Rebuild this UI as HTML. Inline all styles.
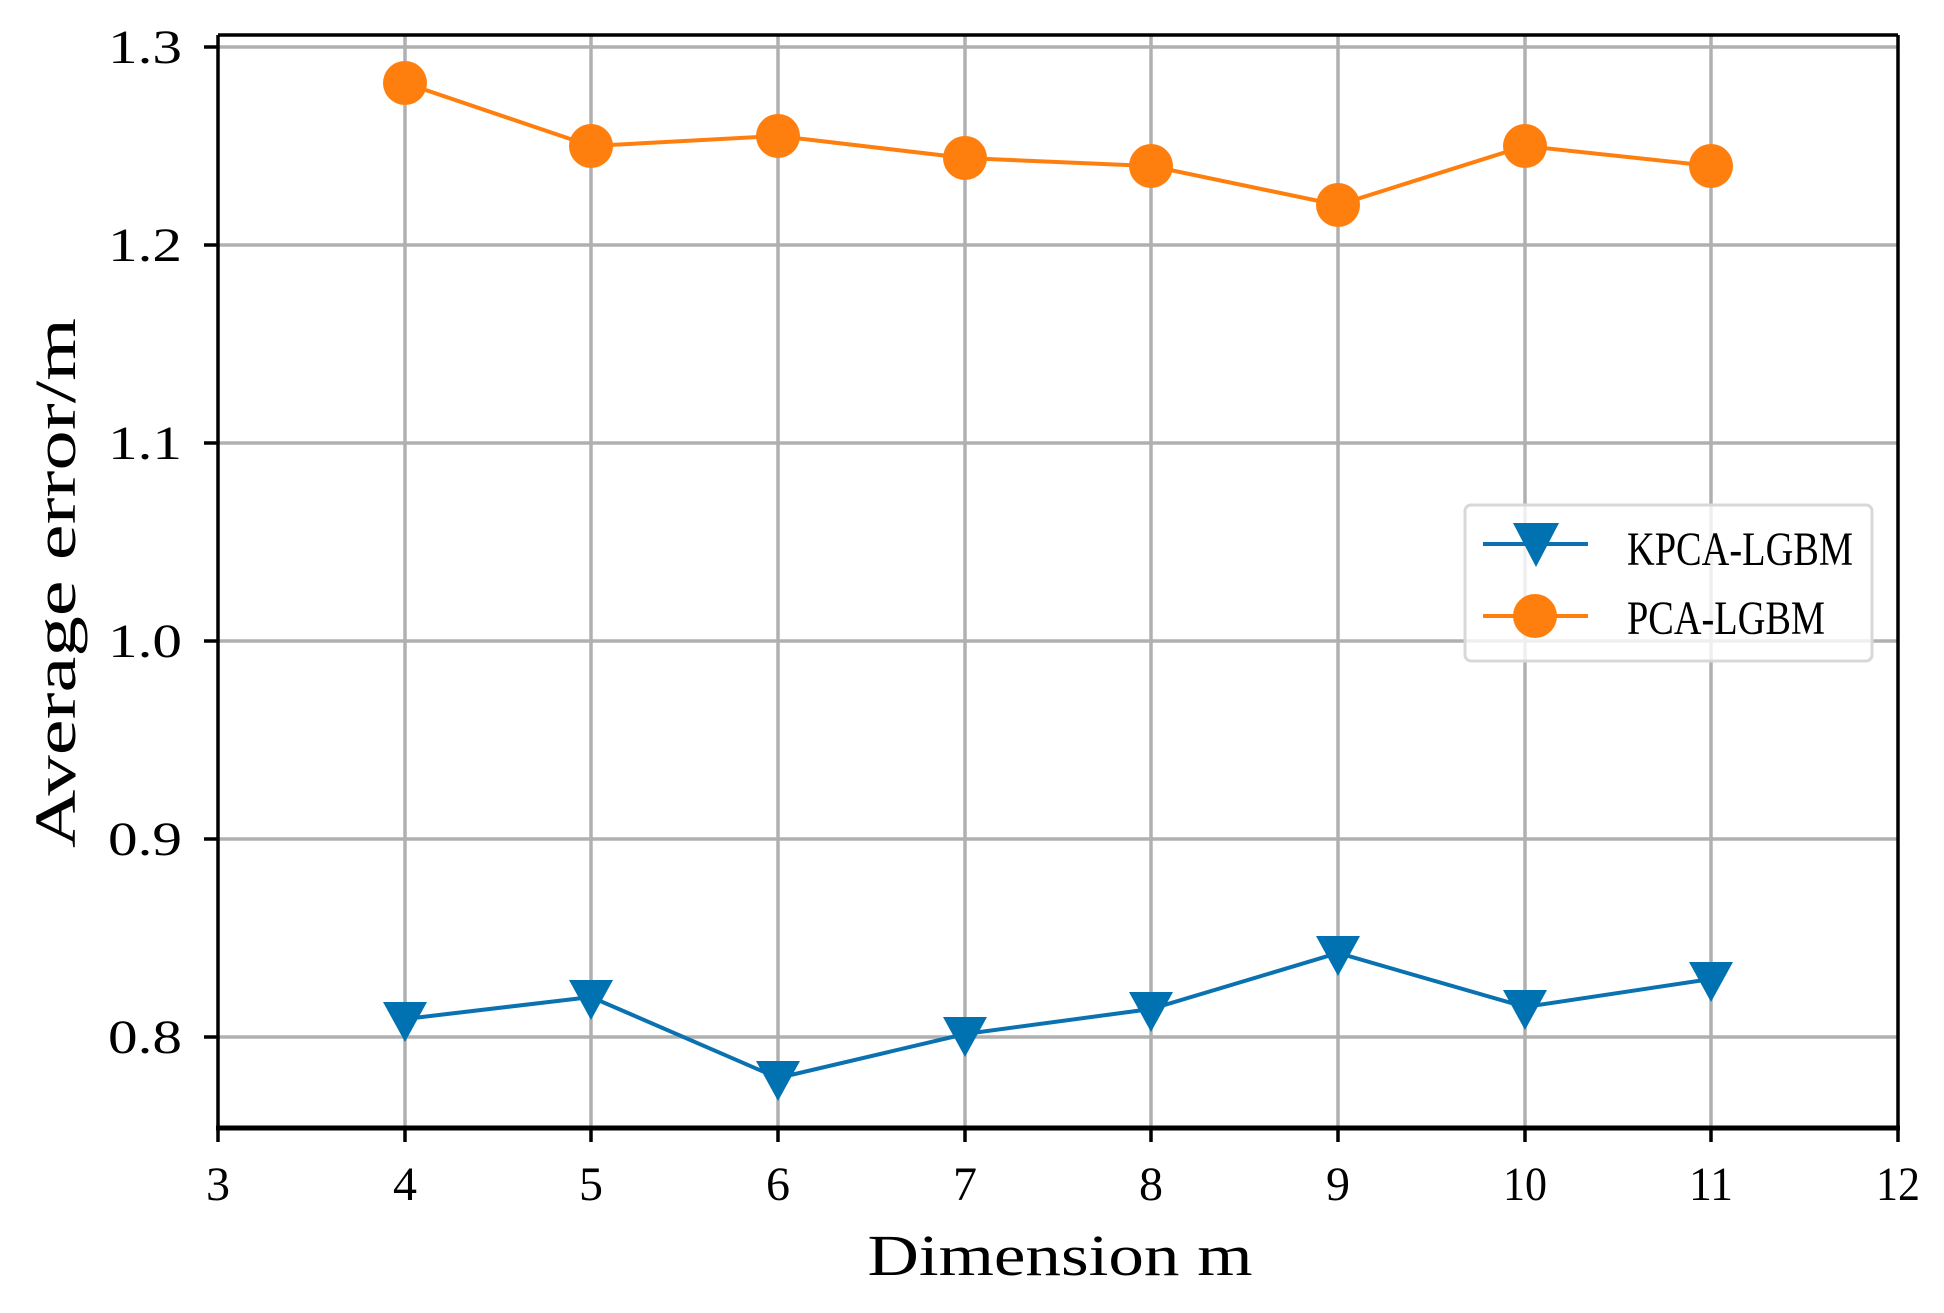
<!DOCTYPE html>
<html><head><meta charset="utf-8"><style>
html,body{margin:0;padding:0;background:#fff;}
svg text{font-family:"Liberation Serif","Noto Serif CJK SC",serif;fill:#000;}
</style></head><body>
<svg width="1944" height="1308" viewBox="0 0 1944 1308" xmlns="http://www.w3.org/2000/svg">
<rect width="1944" height="1308" fill="#fff"/>
<g stroke="#b0b0b0" stroke-width="3.5">
<line x1="405" y1="35" x2="405" y2="1128"/><line x1="591" y1="35" x2="591" y2="1128"/>
<line x1="778" y1="35" x2="778" y2="1128"/><line x1="965" y1="35" x2="965" y2="1128"/>
<line x1="1151" y1="35" x2="1151" y2="1128"/><line x1="1338" y1="35" x2="1338" y2="1128"/>
<line x1="1525" y1="35" x2="1525" y2="1128"/><line x1="1711" y1="35" x2="1711" y2="1128"/>
<line x1="218" y1="47" x2="1898" y2="47"/><line x1="218" y1="245" x2="1898" y2="245"/>
<line x1="218" y1="443" x2="1898" y2="443"/><line x1="218" y1="641" x2="1898" y2="641"/>
<line x1="218" y1="839" x2="1898" y2="839"/><line x1="218" y1="1037" x2="1898" y2="1037"/>
</g>
<g stroke="#000" stroke-width="3.5">
<line x1="218" y1="35" x2="218" y2="1128"/><line x1="1898" y1="35" x2="1898" y2="1128"/>
<line x1="218" y1="35" x2="1898" y2="35"/><line x1="216" y1="1128" x2="1900" y2="1128" stroke-width="5"/>
<line x1="204" y1="47" x2="218" y2="47"/><line x1="204" y1="245" x2="218" y2="245"/><line x1="204" y1="443" x2="218" y2="443"/>
<line x1="204" y1="641" x2="218" y2="641"/><line x1="204" y1="839" x2="218" y2="839"/><line x1="204" y1="1037" x2="218" y2="1037"/>
<line x1="218" y1="1128" x2="218" y2="1142"/><line x1="405" y1="1128" x2="405" y2="1142"/><line x1="591" y1="1128" x2="591" y2="1142"/>
<line x1="778" y1="1128" x2="778" y2="1142"/><line x1="965" y1="1128" x2="965" y2="1142"/><line x1="1151" y1="1128" x2="1151" y2="1142"/>
<line x1="1338" y1="1128" x2="1338" y2="1142"/><line x1="1525" y1="1128" x2="1525" y2="1142"/><line x1="1711" y1="1128" x2="1711" y2="1142"/>
<line x1="1898" y1="1128" x2="1898" y2="1142"/>
</g>
<g font-size="48" text-anchor="end">
<text x="182" y="63" textLength="74" lengthAdjust="spacingAndGlyphs">1.3</text>
<text x="182" y="261" textLength="74" lengthAdjust="spacingAndGlyphs">1.2</text>
<text x="182" y="459" textLength="74" lengthAdjust="spacingAndGlyphs">1.1</text>
<text x="182" y="657" textLength="74" lengthAdjust="spacingAndGlyphs">1.0</text>
<text x="182" y="855" textLength="74" lengthAdjust="spacingAndGlyphs">0.9</text>
<text x="182" y="1053" textLength="74" lengthAdjust="spacingAndGlyphs">0.8</text>
</g>
<g font-size="48" text-anchor="middle">
<text x="218" y="1200">3</text><text x="405" y="1200">4</text><text x="591" y="1200">5</text>
<text x="778" y="1200">6</text><text x="965" y="1200">7</text><text x="1151" y="1200">8</text>
<text x="1338" y="1200">9</text><text x="1525" y="1200" textLength="44" lengthAdjust="spacingAndGlyphs">10</text><text x="1711" y="1200" textLength="44" lengthAdjust="spacingAndGlyphs">11</text><text x="1898" y="1200" textLength="44" lengthAdjust="spacingAndGlyphs">12</text>
</g>
<text x="1060" y="1275" font-size="58" text-anchor="middle" textLength="385" lengthAdjust="spacingAndGlyphs">Dimension m</text>
<text transform="translate(75,583) rotate(-90)" font-size="58" text-anchor="middle" textLength="530" lengthAdjust="spacingAndGlyphs">Average error/m</text>
<polyline fill="none" stroke="#ff7f0e" stroke-width="4" points="405,83 591,146 778,136 965,158 1151,166 1338,205 1525,146 1711,166"/>
<g fill="#ff7f0e">
<circle cx="405" cy="83" r="22"/><circle cx="591" cy="146" r="22"/><circle cx="778" cy="136" r="22"/><circle cx="965" cy="158" r="22"/>
<circle cx="1151" cy="166" r="22"/><circle cx="1338" cy="205" r="22"/><circle cx="1525" cy="146" r="22"/><circle cx="1711" cy="166" r="22"/>
</g>
<polyline fill="none" stroke="#0a72b0" stroke-width="4" points="405,1019 591,997 778,1078 965,1034 1151,1009 1338,953 1525,1007 1711,979"/>
<g fill="#0072b2">
<path d="M383,1002 h44 l-22,40z"/>
<path d="M569,980 h44 l-22,40z"/>
<path d="M756,1061 h44 l-22,40z"/>
<path d="M943,1017 h44 l-22,40z"/>
<path d="M1129,992 h44 l-22,40z"/>
<path d="M1316,936 h44 l-22,40z"/>
<path d="M1503,990 h44 l-22,40z"/>
<path d="M1689,962 h44 l-22,40z"/>
</g>
<rect x="1465" y="505" width="407" height="156" rx="6" fill="#fff" fill-opacity="0.8" stroke="#d8d8d8" stroke-width="3"/>
<line x1="1483" y1="544" x2="1588" y2="544" stroke="#0a72b0" stroke-width="4"/>
<path d="M1513,523 h46 l-23,44z" fill="#0072b2"/>
<line x1="1483" y1="616" x2="1588" y2="616" stroke="#ff7f0e" stroke-width="4"/>
<circle cx="1535" cy="616" r="22" fill="#ff7f0e"/>
<text x="1627" y="565" font-size="48" textLength="226" lengthAdjust="spacingAndGlyphs">KPCA-LGBM</text>
<text x="1627" y="634" font-size="48" textLength="198" lengthAdjust="spacingAndGlyphs">PCA-LGBM</text>
</svg>
</body></html>
